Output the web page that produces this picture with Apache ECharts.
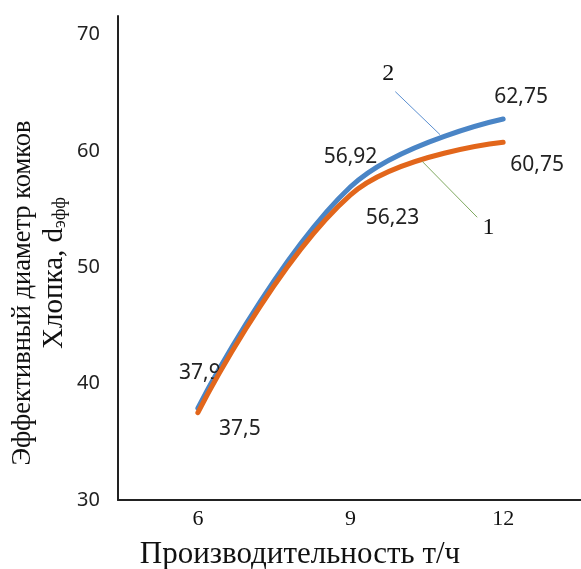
<!DOCTYPE html>
<html>
<head>
<meta charset="utf-8">
<script src="https://cdn.jsdelivr.net/npm/echarts@6/dist/echarts.min.js"></script>
<style>
  html, body { margin: 0; padding: 0; background: #fff; }
  #chart { width: 581px; height: 569px; }
</style>
</head>
<body>
<div id="chart"></div>
<script>
// данные графика
const xValues = [6, 9, 12];
const series2 = [37.9, 56.92, 62.75]; // кривая 2 (синяя)
const series1 = [37.5, 56.23, 60.75]; // кривая 1 (оранжевая)
const yTicks = [30, 40, 50, 60, 70];
const labelText2 = ["37,9", "56,92", "62,75"];
const labelText1 = ["37,5", "56,23", "60,75"];

const blue = "#4a85c6";
const orange = "#e2661b";
const serif = "'Liberation Serif', 'DejaVu Serif', serif";
const sans = "'Noto Sans', 'Open Sans', sans-serif";

// смещения подписей значений, px
const offs2 = [[2, -35], [0, -30], [18, -22]];
const offs1 = [[42, 16], [42, 23], [34, 23]];

function points(vals, texts, offs) {
  return vals.map((v, i) => ({
    value: [xValues[i], v],
    label: { formatter: texts[i], offset: offs[i] },
  }));
}

const chart = echarts.init(document.getElementById("chart"));
chart.setOption({
  animation: false,
  grid: { left: 118, right: 0, top: 16, bottom: 69, containLabel: false, outerBoundsMode: "none" },
  xAxis: {
    type: "value",
    min: 4.43,
    max: 13.53,
    splitLine: { show: false },
    axisLine: { lineStyle: { color: "#222", width: 2 } },
    axisTick: { show: false },
    axisLabel: {
      customValues: xValues,
      fontFamily: serif,
      fontSize: 22,
      color: "#111",
      margin: 8,
    },
  },
  yAxis: {
    type: "value",
    min: 30,
    max: 71.6,
    splitLine: { show: false },
    axisLine: { show: true, lineStyle: { color: "#222", width: 2 } },
    axisTick: { show: false },
    axisLabel: {
      customValues: yTicks,
      fontFamily: sans,
      fontSize: 20,
      color: "#222",
      margin: 18,
    },
  },
  series: [
    {
      name: "2",
      type: "line",
      smooth: 0.4,
      data: points(series2, labelText2, offs2),
      symbol: "circle",
      symbolSize: 1,
      itemStyle: { color: blue },
      lineStyle: { color: blue, width: 5, cap: "round" },
      label: {
        show: true,
        position: "inside",
        fontFamily: sans,
        fontSize: 21,
        color: "#222",
      },
      markLine: {
        silent: true,
        symbol: "none",
        label: { show: false },
        lineStyle: { color: "#5b8fd0", width: 1, type: "solid" },
        data: [[{ coord: [9.88, 65.1] }, { coord: [10.76, 61.4] }]],
      },
      markPoint: {
        symbol: "circle",
        symbolSize: 0,
        label: { show: true, formatter: "2", fontFamily: serif, fontSize: 24, color: "#111" },
        data: [{ coord: [9.74, 66.6] }],
      },
      z: 2,
    },
    {
      name: "1",
      type: "line",
      smooth: 0.4,
      data: points(series1, labelText1, offs1),
      symbol: "circle",
      symbolSize: 1,
      itemStyle: { color: orange },
      lineStyle: { color: orange, width: 5, cap: "round" },
      label: {
        show: true,
        position: "inside",
        fontFamily: sans,
        fontSize: 21,
        color: "#222",
      },
      markLine: {
        silent: true,
        symbol: "none",
        label: { show: false },
        lineStyle: { color: "#7fa860", width: 1, type: "solid" },
        data: [[{ coord: [10.41, 59.1] }, { coord: [11.49, 54.3] }]],
      },
      markPoint: {
        symbol: "circle",
        symbolSize: 0,
        label: { show: true, formatter: "1", fontFamily: serif, fontSize: 24, color: "#111" },
        data: [{ coord: [11.71, 53.4] }],
      },
      z: 3,
    },
  ],
  graphic: [
    {
      type: "text",
      x: 300,
      y: 555,
      style: {
        text: "Производительность т/ч",
        font: "31px " + serif,
        fill: "#111",
        align: "center",
        verticalAlign: "middle",
      },
    },
    {
      type: "text",
      rotation: Math.PI / 2,
      x: 23,
      y: 293,
      style: {
        text: "Эффективный диаметр комков",
        font: "26.5px " + serif,
        fill: "#111",
        align: "center",
        verticalAlign: "middle",
      },
    },
    {
      type: "text",
      rotation: Math.PI / 2,
      x: 54,
      y: 273,
      style: {
        text: "{a|Хлопка, d}{b|эфф}",
        align: "center",
        verticalAlign: "middle",
        rich: {
          a: { font: "29px " + serif, fill: "#111" },
          b: { font: "18px " + serif, fill: "#111", padding: [12, 0, 0, 0] },
        },
      },
    },
  ],
});
</script>
</body>
</html>
